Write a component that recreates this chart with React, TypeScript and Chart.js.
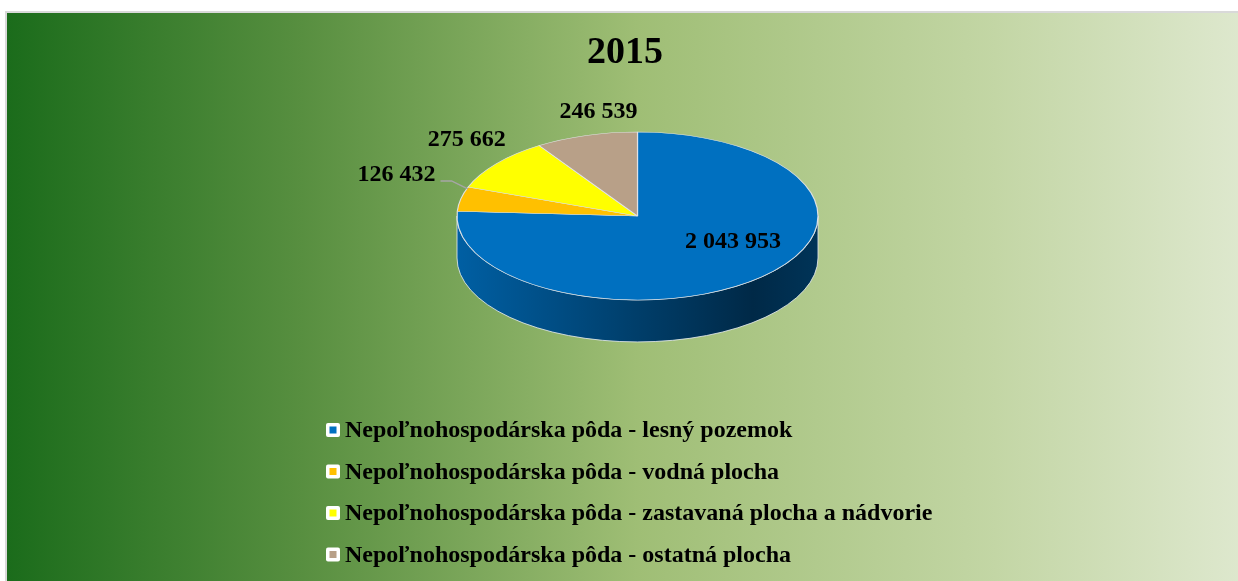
import React, { useEffect, useRef } from "react";
import { Chart, registerables } from "chart.js";

Chart.register(...registerables);

// ---- data ----
const chartTitle = "2015";
const categories = [
  "Nepoľnohospodárska pôda - lesný pozemok",
  "Nepoľnohospodárska pôda - vodná plocha",
  "Nepoľnohospodárska pôda - zastavaná plocha a nádvorie",
  "Nepoľnohospodárska pôda - ostatná plocha",
];
const values = [2043953, 126432, 275662, 246539];
const colors = ["#0070C0", "#FFC000", "#FFFF00", "#B8A088"];

// ---- layout / style ----
const SERIF = "'Times New Roman', 'Liberation Serif', serif";
const CANVAS_W = 1236;
const CANVAS_H = 570;
const PIE_CX = 630.5;
const PIE_CY = 203;
const PIE_R = 180.5;
const TILT = 0.465;
const DEPTH = 42;
const LEGEND_X = 319;
const LEGEND_TEXT_X = 338;
const LEGEND_Y0 = 417;
const LEGEND_STEP = 41.5;

const fmt = (v: number) => String(v).replace(/\B(?=(\d{3})+(?!\d))/g, " ");

function shade(hex: string, f: number) {
  const n = parseInt(hex.slice(1), 16);
  const r = Math.round(((n >> 16) & 255) * f);
  const g = Math.round(((n >> 8) & 255) * f);
  const b = Math.round((n & 255) * f);
  return `rgb(${r},${g},${b})`;
}

const pie3d = {
  id: "pie3d",
  beforeDatasetsDraw(chart: any) {
    const ctx = chart.ctx as CanvasRenderingContext2D;
    const arcs = chart.getDatasetMeta(0).data as any[];
    ctx.save();
    if (!arcs.length) return;
    const cx0 = arcs[0].x;
    const cy0 = arcs[0].y;
    const r = arcs[0].outerRadius;
    const ry = r * TILT;
    const bg = chart.data.datasets[0].backgroundColor as string[];
    arcs.forEach((arc: any, i: number) => {
      for (const sh of [-2 * Math.PI, 0, 2 * Math.PI]) {
        const s = Math.max(arc.startAngle + sh, 0);
        const e = Math.min(arc.endAngle + sh, Math.PI);
        if (e <= s) continue;
        const grad = ctx.createLinearGradient(PIE_CX - r, 0, PIE_CX + r, 0);
        grad.addColorStop(0, shade(bg[i], 0.85));
        grad.addColorStop(0.5, shade(bg[i], 0.55));
        grad.addColorStop(0.82, shade(bg[i], 0.37));
        grad.addColorStop(1, shade(bg[i], 0.46));
        ctx.beginPath();
        ctx.ellipse(PIE_CX, PIE_CY, r, ry, 0, s, e, false);
        ctx.lineTo(PIE_CX + r * Math.cos(e), PIE_CY + ry * Math.sin(e) + DEPTH);
        ctx.ellipse(PIE_CX, PIE_CY + DEPTH, r, ry, 0, e, s, true);
        ctx.closePath();
        ctx.fillStyle = grad;
        ctx.fill();
        ctx.strokeStyle = "rgba(225,230,235,0.85)";
        ctx.lineWidth = 1;
        ctx.stroke();
      }
    });
    ctx.translate(PIE_CX, PIE_CY);
    ctx.scale(1, TILT);
    ctx.translate(-cx0, -cy0);
  },
  afterDatasetsDraw(chart: any) {
    chart.ctx.restore();
  },
};

const pieLabels = {
  id: "pieLabels",
  afterDraw(chart: any) {
    const ctx = chart.ctx as CanvasRenderingContext2D;
    const arcs = chart.getDatasetMeta(0).data as any[];
    if (!arcs.length) return;
    const r = arcs[0].outerRadius;
    const ry = r * TILT;
    const data = chart.data.datasets[0].data as number[];
    const total = data.reduce((a, b) => a + b, 0);
    ctx.save();
    ctx.font = `bold 24px ${SERIF}`;
    ctx.fillStyle = "#000";
    ctx.textAlign = "center";
    ctx.textBaseline = "middle";
    arcs.forEach((arc: any, i: number) => {
      const mid = (arc.startAngle + arc.endAngle) / 2;
      const c = Math.cos(mid);
      const s = Math.sin(mid);
      const txt = fmt(data[i]);
      const w = ctx.measureText(txt).width;
      const frac = data[i] / total;
      if (frac > 0.25) {
        ctx.fillText(txt, PIE_CX + 0.77 * r * c, PIE_CY + 0.43 * ry * s);
        return;
      }
      const px = PIE_CX + r * c;
      const py = PIE_CY + ry * s;
      let x = px + 84 * c + 36;
      const y = py + (s < 0 ? -24 : 24);
      if (frac < 0.06) {
        x -= 18;
        ctx.beginPath();
        ctx.strokeStyle = "#a6a6a6";
        ctx.lineWidth = 1.5;
        const lx = x + w / 2 + 5;
        ctx.moveTo(lx, y + 6);
        ctx.lineTo(lx + 11, y + 6);
        ctx.lineTo(px + 7, py - 10);
        ctx.stroke();
      }
      ctx.fillText(txt, x, y);
    });
    ctx.restore();
  },
};

const boxLegend = {
  id: "boxLegend",
  afterDraw(chart: any) {
    const ctx = chart.ctx as CanvasRenderingContext2D;
    const labels = chart.data.labels as string[];
    const bg = chart.data.datasets[0].backgroundColor as string[];
    ctx.save();
    ctx.font = `bold 24px ${SERIF}`;
    ctx.textAlign = "left";
    ctx.textBaseline = "middle";
    labels.forEach((lab, i) => {
      const y = LEGEND_Y0 + i * LEGEND_STEP;
      ctx.fillStyle = "#ffffff";
      ctx.beginPath();
      (ctx as any).roundRect(LEGEND_X, y - 7, 14, 14, 2);
      ctx.fill();
      ctx.fillStyle = bg[i];
      ctx.fillRect(LEGEND_X + 3.5, y - 3.5, 7, 7);
      ctx.fillStyle = "#000";
      ctx.fillText(lab, LEGEND_TEXT_X, y + 1);
    });
    ctx.restore();
  },
};

export default function App() {
  const ref = useRef<HTMLCanvasElement | null>(null);
  useEffect(() => {
    if (!ref.current) return;
    const chart = new Chart(ref.current, {
      type: "pie",
      data: {
        labels: categories,
        datasets: [
          {
            data: values,
            backgroundColor: colors,
            borderColor: "rgba(225,228,232,0.95)",
            borderWidth: 1.2,
            radius: PIE_R,
            clip: false as any,
          } as any,
        ],
      },
      options: {
        animation: false,
        responsive: false,
        devicePixelRatio: 1,
        events: [],
        layout: { padding: 0 },
        plugins: {
          legend: { display: false },
          tooltip: { enabled: false },
          title: {
            display: true,
            text: chartTitle,
            color: "#000",
            font: { family: SERIF, size: 38, weight: "bold" },
            padding: { top: 17, bottom: 10 },
          },
        },
      },
      plugins: [pie3d, pieLabels, boxLegend],
    });
    return () => chart.destroy();
  }, []);

  return (
    <div
      style={{
        position: "fixed",
        left: 0,
        top: 0,
        width: 1238,
        height: 581,
        overflow: "hidden",
        background: "#ffffff",
      }}
    >
      <div
        style={{
          position: "absolute",
          left: 5,
          top: 11,
          width: CANVAS_W,
          height: 580,
          border: "2px solid #d9d9d9",
          background:
            "linear-gradient(to right, #1b6c1b 0%, #588f40 24%, #9fbe75 51%, #c3d6a5 80%, #dee8ce 100%)",
        }}
      >
        <canvas ref={ref} width={CANVAS_W} height={CANVAS_H} style={{ display: "block" }} />
      </div>
    </div>
  );
}
